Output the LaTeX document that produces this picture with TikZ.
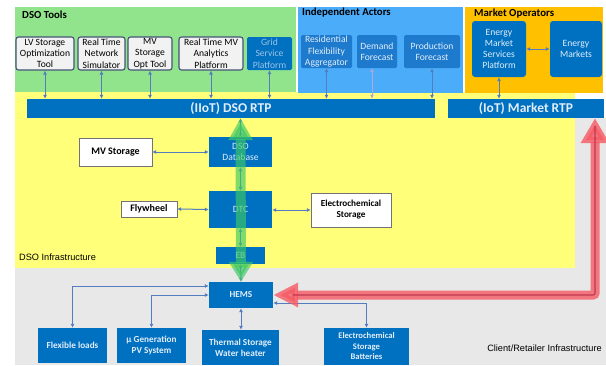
\documentclass[tikz,border=0pt]{standalone}
\usepackage{fontspec}
\setmainfont{Carlito}
\newfontfamily\arialfont{Liberation Sans}
\usetikzlibrary{arrows.meta}

\definecolor{toolgreen}{RGB}{146,228,140}
\definecolor{actorsky}{RGB}{75,172,250}
\definecolor{mktorange}{RGB}{255,192,0}
\definecolor{infrayellow}{RGB}{255,255,122}
\definecolor{clientgrey}{RGB}{232,232,232}
\definecolor{dsoblue}{RGB}{0,112,192}
\definecolor{actorblue}{RGB}{30,122,204}
\definecolor{lighttext}{RGB}{225,238,250}
\definecolor{gridtext}{RGB}{157,195,230}
\definecolor{toolfill}{RGB}{242,242,242}
\definecolor{toolborder}{RGB}{68,84,120}
\definecolor{arrowblue}{RGB}{84,124,192}
\definecolor{lilac}{RGB}{180,167,214}
\definecolor{flowgreen}{RGB}{60,200,100}
\definecolor{flowred}{RGB}{245,90,100}
\definecolor{darkred}{RGB}{170,30,60}

\tikzset{
  tool/.style={draw=toolborder, fill=toolfill, line width=1.1pt, rounded corners=2.5pt,
    align=center, inner sep=0pt, font=\fontsize{9.6}{11.2}\selectfont},
  actor/.style={fill=actorblue, rounded corners=1.5pt, align=center, inner sep=0pt,
    text=lighttext, font=\fontsize{9.6}{11.2}\selectfont},
  dsobox/.style={fill=dsoblue, align=center, inner sep=0pt, text=lighttext,
    font=\fontsize{9.6}{11.2}\selectfont},
  clientbox/.style={dsobox, font=\bfseries\fontsize{9.2}{11}\selectfont},
  whitebox/.style={draw=black!55, fill=white, align=center, inner sep=0pt,
    font=\bfseries\fontsize{10}{11.5}\selectfont},
  rtpbar/.style={fill=dsoblue, text=lighttext, inner sep=0pt,
    font=\bfseries\fontsize{13.5}{15}\selectfont},
  arealabel/.style={anchor=west, inner sep=0pt, font=\bfseries\fontsize{10.8}{12}\selectfont},
  infralabel/.style={inner sep=0pt, font=\arialfont\fontsize{9.2}{10.5}\selectfont},
  biarrow/.style={draw=arrowblue, line width=1pt,
    {Latex[length=4pt,width=4pt]}-{Latex[length=4pt,width=4pt]}}
}

\begin{document}
\begin{tikzpicture}[x=1pt,y=-1pt]
\useasboundingbox (0,0) rectangle (606,365);

% areas
\fill[clientgrey] (15,118) rectangle (606,365);
\fill[infrayellow] (15,92) rectangle (575,268);
\fill[toolgreen] (15,7) rectangle (296,92);
\fill[actorsky] (298,7) rectangle (463,93);
\fill[mktorange] (465,7) rectangle (603,93);

\node[arealabel] (dsotools) at (22,15) {DSO Tools};
\node[arealabel] (indep) at (302,13) {Independent Actors};
\node[arealabel] (mktops) at (474,14) {Market Operators};

% DSO tools
\node[tool, minimum width=58, minimum height=33] (lvst) at (45,53.5) {LV Storage\\Optimization\\Tool};
\node[tool, minimum width=47, minimum height=33] (rtns) at (101.5,53.5) {Real Time\\Network\\Simulator};
\node[tool, minimum width=44, minimum height=33] (mvst) at (150,53.5) {MV\\Storage\\Opt Tool};
\node[tool, minimum width=64, minimum height=33] (rtmv) at (211,53.5) {Real Time MV\\Analytics\\Platform};
\node[actor, fill=dsoblue, text=gridtext, minimum width=45, minimum height=33] (gsp) at (269.5,53.5) {Grid\\Service\\Platform};

% independent actors
\node[actor, minimum width=51, minimum height=33] (rfa) at (326.5,51.5) {Residential\\Flexibility\\Aggregator};
\node[actor, minimum width=40, minimum height=33] (dfc) at (377,51.5) {Demand\\Forecast};
\node[actor, minimum width=56, minimum height=33] (pfc) at (432,51.5) {Production\\Forecast};

% market operators
\node[actor, fill=dsoblue, rounded corners=3pt, minimum width=54, minimum height=56] (emsp) at (499,49) {Energy\\Market\\Services\\Platform};
\node[actor, fill=dsoblue, rounded corners=3pt, minimum width=52, minimum height=56] (emkt) at (576,49) {Energy\\Markets};

% platforms
\node[rtpbar, minimum width=408, minimum height=19] (dsortp) at (231,108.5) {(IIoT) DSO RTP};
\node[rtpbar, minimum width=156, minimum height=19] (mktrtp) at (526,108.5) {(IoT) Market RTP};

% DSO infrastructure
\node[whitebox, minimum width=73, minimum height=28] (mvs) at (115.5,152) {MV Storage};
\node[dsobox, minimum width=63, minimum height=30] (dsodb) at (240.5,152) {DSO\\Database};
\node[whitebox, minimum width=56, minimum height=16] (fly) at (149,209) {Flywheel};
\node[whitebox, font=\bfseries\fontsize{9.2}{11}\selectfont, minimum width=80, minimum height=34] (ecs) at (351,210) {Electrochemical\\Storage};
\node[dsobox, minimum width=63, minimum height=37] (dtc) at (240.5,209.5) {DTC};
\node[dsobox, minimum width=49, minimum height=17] (eb) at (240.5,255.5) {EB};
\node[infralabel, anchor=west] (dsoinfra) at (19,257) {DSO Infrastructure};

% client / retailer
\node[clientbox, minimum width=64, minimum height=26] (hems) at (241,295) {HEMS};
\node[clientbox, minimum width=69, minimum height=35] (flex) at (72.5,345.5) {Flexible loads};
\node[clientbox, minimum width=69, minimum height=35] (pv) at (151.5,345.5) {µ Generation\\PV System};
\node[clientbox, minimum width=77, minimum height=35] (thermal) at (240.5,347.5) {Thermal Storage\\Water heater};
\node[clientbox, font=\bfseries\fontsize{8.6}{10.5}\selectfont, minimum width=85, minimum height=37] (batt) at (366.5,346.5) {Electrochemical\\Storage\\Batteries};
\node[infralabel, anchor=east] (clientinfra) at (602,348) {Client/Retailer Infrastructure};

% links to the platforms
\foreach \n in {lvst,rtns,mvst,rtmv,gsp,rfa,pfc}
  \draw[biarrow] (\n.south) -- (\n.south |- dsortp.north);
\draw[biarrow, draw=lilac] ([xshift=-5pt]dfc.south) -- ([xshift=-5pt]dfc.south |- dsortp.north);
\draw[biarrow] (emsp.south) -- (emsp.south |- mktrtp.north);
\draw[biarrow] (emsp.east) -- (emkt.west);

% infrastructure links
\draw[biarrow] (mvs.east) -- (dsodb.west);
\draw[biarrow] (fly.east) -- (dtc.west);
\draw[biarrow] (ecs.west) -- (dtc.east |- ecs.west);
\draw[biarrow] (dsodb.north |- dsortp.south) -- (dsodb.north);
\draw[biarrow] (dsodb.south) -- (dtc.north);
\draw[biarrow] (dtc.south) -- (eb.north);
\draw[biarrow] (eb.south) -- (hems.north);
\draw[biarrow] ([yshift=9pt]hems.west) -| (flex.north);
\draw[biarrow] (hems.west) -| (pv.north);
\draw[biarrow] (hems.south) -- (hems.south |- thermal.north);
\draw[biarrow] ([yshift=-8pt]hems.east) -| (batt.north);

% big flows
\draw[flowgreen, opacity=0.65, line width=10pt,
  {Triangle[length=22pt,width=23pt]}-{Triangle[length=20pt,width=23pt]}]
  (dsodb.north |- dsortp.south) -- (hems.north);
\coordinate (bend) at (595,295);
\draw[flowred, opacity=0.8, line width=9pt, rounded corners=2pt,
  {Triangle[length=25pt,width=23pt]}-{Triangle[length=25pt,width=27pt]}]
  (hems.east) -- (bend) -- (bend |- mktrtp.south);
\draw[darkred, opacity=0.7, line width=1.2pt, rounded corners=2pt]
  ([xshift=20pt]hems.east) -- (bend) -- ([yshift=-8pt]bend |- mktrtp.south);
\end{tikzpicture}
\end{document}
